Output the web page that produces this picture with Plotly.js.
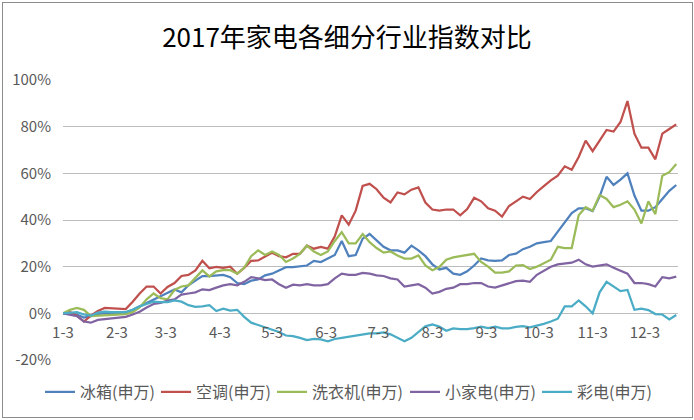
<!DOCTYPE html>
<html>
<head>
<meta charset="utf-8">
<script src="https://cdn.plot.ly/plotly-3.0.1.min.js"></script>
<style>
  html, body { margin: 0; padding: 0; background: #fff; }
  #wrap { position: relative; width: 694px; height: 420px; }
  #chart { width: 694px; height: 420px; }
  #frame { position: absolute; left: 2px; top: 2px; width: 689px; height: 414px; border: 1px solid #8c8c8c; pointer-events: none; }
</style>
</head>
<body>
<div id="wrap"><div id="chart"></div><div id="frame"></div></div>
<script>
const dates = [
 '2017-01-03','2017-01-07','2017-01-11','2017-01-15','2017-01-19','2017-01-23','2017-01-27','2017-01-31',
 '2017-02-04','2017-02-08','2017-02-12','2017-02-16','2017-02-20','2017-02-24','2017-02-28',
 '2017-03-04','2017-03-08','2017-03-12','2017-03-16','2017-03-20','2017-03-24','2017-03-28',
 '2017-04-01','2017-04-05','2017-04-09','2017-04-13','2017-04-17','2017-04-21','2017-04-25','2017-04-29',
 '2017-05-03','2017-05-07','2017-05-11','2017-05-15','2017-05-19','2017-05-23','2017-05-27','2017-05-31',
 '2017-06-04','2017-06-08','2017-06-12','2017-06-16','2017-06-20','2017-06-24','2017-06-28',
 '2017-07-02','2017-07-06','2017-07-10','2017-07-14','2017-07-18','2017-07-22','2017-07-26','2017-07-30',
 '2017-08-03','2017-08-07','2017-08-11','2017-08-15','2017-08-19','2017-08-23','2017-08-27','2017-08-31',
 '2017-09-04','2017-09-08','2017-09-12','2017-09-16','2017-09-20','2017-09-24','2017-09-28',
 '2017-10-02','2017-10-06','2017-10-10','2017-10-14','2017-10-18','2017-10-22','2017-10-26','2017-10-30',
 '2017-11-03','2017-11-07','2017-11-11','2017-11-15','2017-11-19','2017-11-23','2017-11-27',
 '2017-12-01','2017-12-05','2017-12-09','2017-12-13','2017-12-17','2017-12-21'
];

// 冰箱(申万)
const fridge = [
 0, 0, -0.5, -1.8, -1.2, -0.2, 0, 0, 0.2, 0.3,
 1.5, 3, 4.5, 6, 7.5, 8.7, 10.2, 9, 12, 14,
 16, 16, 16.3, 16.5, 15.5, 13, 12.5, 14, 14.5, 16.3,
 17, 18.5, 19.8, 19.8, 20, 20.5, 22.5, 22, 23.5, 25,
 31, 24.5, 25, 32, 34, 31.2, 28.5, 27, 27, 26,
 29, 27, 24.5, 21, 18.8, 19.5, 17, 16.5, 18, 20.5,
 23.5, 22.7, 22.5, 22.7, 25, 25.6, 27.5, 28.5, 30, 30.5,
 31, 35, 39, 43, 45, 45, 43.8, 50, 58.5, 55,
 57.3, 60, 50.5, 44, 44, 45.5, 49, 52.5, 55
];
// 空调(申万)
const aircon = [
 0, 0.5, -1, -3.5, -1, 1, 2.3, 2.2, 2, 1.8,
 5, 8.5, 11.5, 11.5, 8.5, 11.3, 13, 16, 16.5, 18.4,
 22.5, 19.3, 19.9, 19.5, 20, 17, 19.5, 22.5, 22.7, 24.5,
 26, 24.5, 24, 25.5, 25.5, 29, 27.7, 28.5, 27.7, 33,
 42, 38, 44, 54.6, 55.5, 53.2, 49.6, 47.5, 51.8, 51,
 53, 54, 47.5, 44.5, 44, 44.5, 44.5, 42, 44.7, 49.5,
 48, 45, 44, 41.5, 46, 48, 50, 49, 52, 54.5,
 57, 59, 63, 61.5, 67, 74, 69.5, 74, 78.6, 77.9,
 82, 91, 77, 71, 71, 66, 77, 79, 81
];
// 洗衣机(申万)
const washer = [
 0, 1.5, 2.3, 1.5, -1.2, -1, -0.8, -0.7, -0.5, -0.3,
 0.5, 2.5, 6, 8.5, 6.5, 6, 10, 11.5, 12, 15,
 18.4, 15.8, 18, 18.5, 18.5, 17, 19.5, 24.5, 27, 25,
 26.5, 25, 22, 23.5, 25.5, 29, 26.5, 25, 26.5, 31,
 34.8, 30, 30, 34, 30.5, 28, 26, 26.5, 24.8, 23.5,
 23.5, 24.8, 20.5, 18.5, 19.8, 23, 24, 24.5, 25, 25.5,
 22, 20, 17.5, 17.5, 18, 20.5, 20.7, 19, 20, 21.5,
 23, 28.5, 28, 28, 42, 45.5, 44, 50.7, 49, 45.5,
 46.5, 48, 44.5, 38.5, 48, 42.5, 59, 60.5, 64
];
// 小家电(申万)
const smallApp = [
 0, -0.5, -1.2, -3.5, -4, -2.8, -2.5, -2.2, -2, -1.5,
 -0.5, 0.7, 2.5, 4, 4.5, 5.5, 6, 8, 8.5, 9,
 10.3, 10, 11, 12, 12.5, 12, 13.5, 15.5, 15, 14.2,
 14.5, 12.5, 11, 12.3, 12, 12.5, 12, 12, 12.5, 15,
 17, 16.5, 16.5, 17.3, 17, 16.3, 16, 15, 14.5, 11.5,
 12, 12.5, 11, 8.5, 9.2, 10.5, 11, 12.5, 12.5, 13,
 13, 11.5, 11, 12, 12.8, 13.8, 14, 13.5, 16.5, 18.3,
 20, 21, 21.3, 21.7, 23, 21, 20, 20.5, 21, 19.5,
 18.3, 17, 13, 13, 12.5, 11.5, 15.5, 15, 15.7
];
// 彩电(申万)
const tv = [
 0, 0.3, 0.5, -0.5, -1, 0.3, 0.7, 0.5, 0.5, 0.5,
 1.5, 3, 4, 5, 4.8, 4.8, 5.5, 5, 3.5, 2.8,
 3, 3.5, 1, 2, 1.2, 1.5, -1.5, -4, -5, -6,
 -7, -8, -9.5, -9.8, -10.5, -11.5, -11, -11.2, -12, -11,
 -10.5, -10, -9.3, -9, -8.6, -8.6, -8.2, -9, -10.5, -12,
 -10.5, -8, -5.5, -4.8, -5.7, -7.5, -6.5, -6.8, -6.8, -6.3,
 -5.7, -6.3, -5.7, -6.4, -6.4, -5.8, -5.5, -6, -5.3, -4.5,
 -3.5, -2.3, 3, 3, 5.5, 3, 0, 9, 13.5, 11.5,
 9.5, 10, 1.5, 2, 1.4, -0.3, -0.5, -2.6, -0.7
];

const seriesNames = ['冰箱(申万)', '空调(申万)', '洗衣机(申万)', '小家电(申万)', '彩电(申万)'];
const seriesColors = ['#4F81BD', '#C0504D', '#9BBB59', '#8064A2', '#4BACC6'];
const seriesValues = [fridge, aircon, washer, smallApp, tv];

const tickDates = ['2017-01-03','2017-02-03','2017-03-03','2017-04-03','2017-05-03','2017-06-03',
                   '2017-07-03','2017-08-03','2017-09-03','2017-10-03','2017-11-03','2017-12-03'];
const tickLabels = ['1-3','2-3','3-3','4-3','5-3','6-3','7-3','8-3','9-3','10-3','11-3','12-3'];
const yTicks = [-20, 0, 20, 40, 60, 80, 100];
const yTickLabels = ['-20%', '0%', '20%', '40%', '60%', '80%', '100%'];

const legendWidths = [71, 71, 88, 87, 75];

const traces = seriesNames.map((name, k) => ({
  type: 'scatter', mode: 'lines', name: name,
  x: dates, y: seriesValues[k],
  legendwidth: legendWidths[k],
  line: { color: seriesColors[k], width: 2.25 }
}));

const FONT = '"Noto Sans CJK SC", "Noto Sans", sans-serif';
const layout = {
  width: 694, height: 420,
  margin: { l: 63, r: 16, t: 80, b: 60 },
  paper_bgcolor: '#ffffff', plot_bgcolor: '#ffffff',
  font: { family: FONT, color: '#595959', size: 15 },
  title: { text: '2017年家电各细分行业指数对比', font: { family: FONT, size: 26, color: '#000000' },
           x: 0.5, xanchor: 'center', xref: 'container', y: 1 - 38/420, yanchor: 'middle', yref: 'container' },
  xaxis: { type: 'date', range: ['2017-01-03', '2017-12-22'], tickvals: tickDates, ticktext: tickLabels,
           showgrid: false, zeroline: false, showline: false, ticks: '', anchor: 'free', position: 20/120,
           ticklabelstandoff: 9, tickfont: { size: 15, color: '#595959' } },
  yaxis: { range: [-20, 100], tickvals: yTicks, ticktext: yTickLabels, showgrid: true, gridcolor: '#bcbcbc', gridwidth: 1,
           zeroline: false, showline: false, ticks: '', ticklabelstandoff: 11, tickfont: { size: 15, color: '#595959' } },
  legend: { orientation: 'h', x: 40/694, xanchor: 'left', xref: 'container', y: 1 - 392/420, yanchor: 'middle', yref: 'container',
            font: { size: 16, color: '#595959' } },
  showlegend: true
};

Plotly.newPlot('chart', traces, layout, { staticPlot: true, displayModeBar: false });
</script>
</body>
</html>
